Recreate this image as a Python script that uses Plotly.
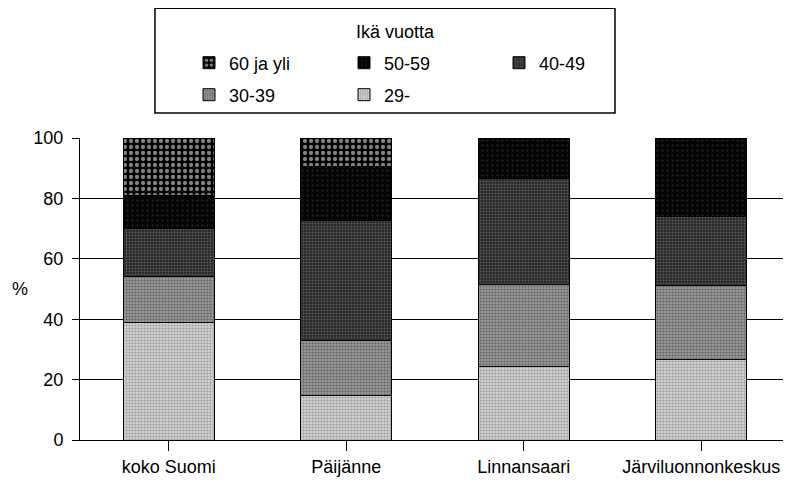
import plotly.graph_objects as go

# Ikäjakauma (%) alueittain
alueet = ['koko Suomi', 'Päijänne', 'Linnansaari', 'Järviluonnonkeskus']
ika_29 = [39.0, 14.7, 24.3, 26.7]
ika_30_39 = [15.0, 18.1, 27.2, 24.4]
ika_40_49 = [16.0, 40.0, 35.1, 22.9]
ika_50_59 = [10.8, 17.7, 13.4, 26.0]
ika_60 = [19.2, 9.5, 0.0, 0.0]

y_ticks = [0, 20, 40, 60, 80, 100]

font = 'Liberation Sans, Arial, sans-serif'

# the page body has an 8 px margin, so the figure is drawn 8 px smaller
W, H = 783, 472

# (name, values, pattern, legend)
sarjat = [
    ('29-', ika_29, dict(shape='.', fgcolor='#6a6a6a', bgcolor='#dcdcdc', size=3, solidity=0.5), 'legend2'),
    ('30-39', ika_30_39, dict(shape='.', fgcolor='#303030', bgcolor='#a4a4a4', size=3, solidity=0.5), 'legend2'),
    ('40-49', ika_40_49, dict(shape='.', fgcolor='#8a8a8a', bgcolor='#282828', size=3, solidity=0.35), 'legend'),
    ('50-59', ika_50_59, dict(shape='.', fgcolor='#4a4a4a', bgcolor='#050505', size=5, solidity=0.12), 'legend'),
    ('60 ja yli', ika_60, dict(shape='.', fgcolor='white', bgcolor='black', size=6, solidity=0.4), 'legend'),
]

fig = go.Figure()
for name, vals, patt, leg in sarjat:
    fig.add_trace(go.Bar(
        x=alueet, y=vals, name=name, legend=leg,
        marker=dict(color='white', pattern=patt, line=dict(color='black', width=1)),
    ))

fig.update_layout(
    width=W, height=H,
    barmode='stack', bargap=0.49,
    plot_bgcolor='white', paper_bgcolor='white',
    font=dict(family=font, size=18, color='black'),
    margin=dict(l=72, r=1, t=130, b=40),
    showlegend=True,
    legend=dict(orientation='h', xref='container', yref='container', x=181 / W, y=1 - 55 / H,
                xanchor='left', yanchor='middle', traceorder='reversed', entrywidth=110,
                font=dict(size=18), bgcolor='rgba(0,0,0,0)'),
    legend2=dict(orientation='h', xref='container', yref='container', x=181 / W, y=1 - 87 / H,
                 xanchor='left', yanchor='middle', traceorder='reversed', entrywidth=110,
                 font=dict(size=18), bgcolor='rgba(0,0,0,0)'),
    xaxis=dict(range=[-0.5, 3.5], showline=True, linecolor='black', linewidth=1,
               ticks='outside', ticklen=10, tickcolor='black', showgrid=False,
               tickfont=dict(size=18)),
    yaxis=dict(range=[0, 100], tickvals=y_ticks, showline=True, linecolor='black', linewidth=1,
               ticks='outside', ticklen=7, tickcolor='black', showgrid=True,
               gridcolor='black', gridwidth=1, zeroline=False, tickfont=dict(size=18),
               ticklabelstandoff=5),
)

fig.add_annotation(text='Ikä vuotta', xref='paper', yref='paper', x=0.445, y=1.351,
                   showarrow=False, font=dict(size=18), xanchor='center', yanchor='middle')
fig.add_annotation(text='%', xref='paper', yref='paper', x=-0.085, y=0.5,
                   showarrow=False, font=dict(size=18), xanchor='center', yanchor='middle')
fig.add_shape(type='rect', xref='paper', yref='paper', x0=0.1056, x1=0.7535, y0=1.083, y1=1.43,
              line=dict(color='black', width=1.5))

fig.write_html('out.html')
